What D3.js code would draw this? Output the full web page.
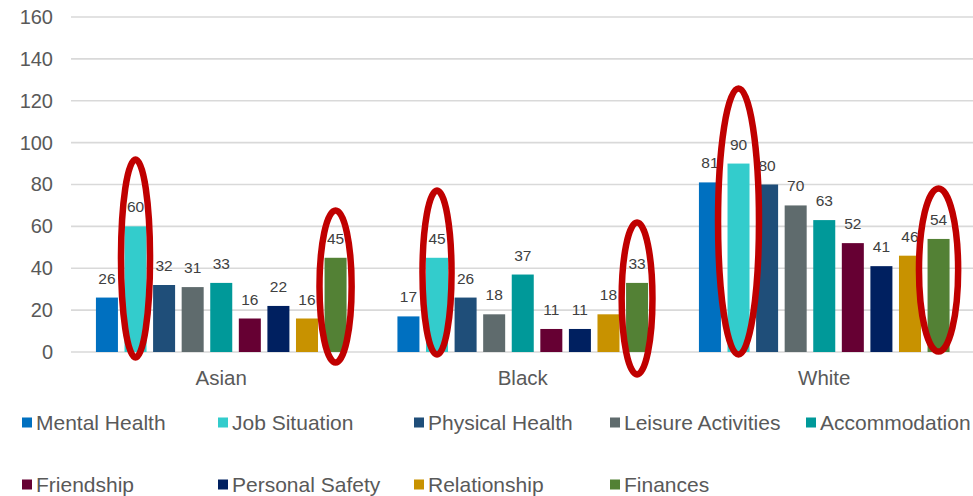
<!DOCTYPE html>
<html>
<head>
<meta charset="utf-8">
<script src="https://cdn.jsdelivr.net/npm/d3@7/dist/d3.min.js"></script>
<style>
  html, body { margin: 0; padding: 0; background: #ffffff; }
  svg { display: block; font-family: Arial, "Liberation Sans", sans-serif; }
</style>
</head>
<body>
<svg id="chart" width="973" height="496"></svg>
<script>
// Ethnic groups along the x axis
const groups = ["Asian", "Black", "White"];

// Concern categories (one bar per category in each group)
const series = [
  "Mental Health", "Job Situation", "Physical Health", "Leisure Activities",
  "Accommodation", "Friendship", "Personal Safety", "Relationship", "Finances"
];

// Counts per category, ordered as in `groups`
const mentalHealth      = [26, 17, 81];
const jobSituation      = [60, 45, 90];
const physicalHealth    = [32, 26, 80];
const leisureActivities = [31, 18, 70];
const accommodation     = [33, 37, 63];
const friendship        = [16, 11, 52];
const personalSafety    = [22, 11, 41];
const relationship      = [16, 18, 46];
const finances          = [45, 33, 54];

const yTicks = [0, 20, 40, 60, 80, 100, 120, 140, 160];

const colors = [
  "#0070C0", "#33CCCC", "#1F4E79", "#5F6B6D", "#009999",
  "#660033", "#002060", "#C89200", "#538135"
];

// Hand-drawn emphasis rings: vertical extent in value units, width relative to the bar
const rings = [
  { group: "Asian", series: "Job Situation", top: 91.9,  bottom: -2.6,  widen: 0.66 },
  { group: "Asian", series: "Finances",      top: 67.6,  bottom: -5.0,  widen: 0.73 },
  { group: "Black", series: "Job Situation", top: 77.1,  bottom: -1.2,  widen: 0.66 },
  { group: "Black", series: "Finances",      top: 61.8,  bottom: -10.7, widen: 0.70 },
  { group: "White", series: "Job Situation", top: 125.8, bottom: -1.2,  widen: 0.93 },
  { group: "White", series: "Finances",      top: 78.1,  bottom: 0.2,   widen: 0.89 }
];

const valuesBySeries = [
  mentalHealth, jobSituation, physicalHealth, leisureActivities, accommodation,
  friendship, personalSafety, relationship, finances
];

const rows = [];
groups.forEach((g, gi) => {
  series.forEach((s, si) => {
    rows.push({ group: g, series: s, value: valuesBySeries[si][gi], color: colors[si] });
  });
});

const svg = d3.select("#chart");

const x0 = d3.scaleBand().domain(groups).range([70.5, 975]).padding(0);
const x1 = d3.scaleBand().domain(series).range([0, x0.bandwidth()])
  .paddingInner(0.23).paddingOuter(0.89);
const y = d3.scaleLinear().domain([0, 160]).range([352, 17]);

// Horizontal gridlines
svg.append("g")
  .selectAll("line")
  .data(yTicks)
  .join("line")
  .attr("x1", 71).attr("x2", 973)
  .attr("y1", d => y(d)).attr("y2", d => y(d))
  .attr("stroke", "#d9d9d9")
  .attr("stroke-width", 1.6);

// Y axis labels
const yAxis = d3.axisLeft(y).tickValues(yTicks).tickSize(0).tickPadding(0);
const yG = svg.append("g").attr("transform", "translate(53,0)").call(yAxis);
yG.select(".domain").remove();
yG.selectAll("text")
  .attr("fill", "#595959")
  .attr("font-size", 20)
  .attr("font-family", "Arial, 'Liberation Sans', sans-serif");

// Category axis labels
const xAxis = d3.axisBottom(x0).tickSize(0).tickPadding(0);
const xG = svg.append("g").attr("transform", "translate(0,0)").call(xAxis);
xG.select(".domain").remove();
xG.selectAll("text")
  .attr("y", 385)
  .attr("dy", 0)
  .attr("fill", "#595959")
  .attr("font-size", 20.5)
  .attr("font-family", "Arial, 'Liberation Sans', sans-serif");

// Bars
const groupG = svg.append("g")
  .selectAll("g")
  .data(groups)
  .join("g")
  .attr("transform", d => `translate(${x0(d)},0)`);

groupG.selectAll("rect")
  .data(g => rows.filter(r => r.group === g))
  .join("rect")
  .attr("x", d => x1(d.series))
  .attr("y", d => y(d.value))
  .attr("width", x1.bandwidth())
  .attr("height", d => y(0) - y(d.value))
  .attr("fill", d => d.color);

// Value labels
groupG.selectAll("text.value")
  .data(g => rows.filter(r => r.group === g))
  .join("text")
  .attr("class", "value")
  .attr("x", d => x1(d.series) + x1.bandwidth() / 2)
  .attr("y", d => y(d.value) - 14)
  .attr("text-anchor", "middle")
  .attr("fill", "#404040")
  .attr("font-size", 15.5)
  .text(d => d.value);

// Emphasis rings
svg.append("g")
  .selectAll("ellipse")
  .data(rings)
  .join("ellipse")
  .attr("cx", d => x0(d.group) + x1(d.series) + x1.bandwidth() / 2)
  .attr("cy", d => (y(d.top) + y(d.bottom)) / 2)
  .attr("rx", d => x1.bandwidth() * d.widen)
  .attr("ry", d => (y(d.bottom) - y(d.top)) / 2)
  .attr("fill", "none")
  .attr("stroke", "#C00000")
  .attr("stroke-width", 6.5);

// Legend: two rows, five columns
const legend = svg.append("g")
  .selectAll("g")
  .data(series)
  .join("g")
  .attr("transform", (d, i) => `translate(${22 + (i % 5) * 196},${i < 5 ? 422.5 : 484.5})`);

legend.append("rect")
  .attr("x", 0).attr("y", -5)
  .attr("width", 10).attr("height", 10)
  .attr("fill", (d, i) => colors[i]);

legend.append("text")
  .attr("x", 14)
  .attr("y", 0)
  .attr("dy", "0.35em")
  .attr("fill", "#595959")
  .attr("font-size", 21)
  .text(d => d);
</script>
</body>
</html>
